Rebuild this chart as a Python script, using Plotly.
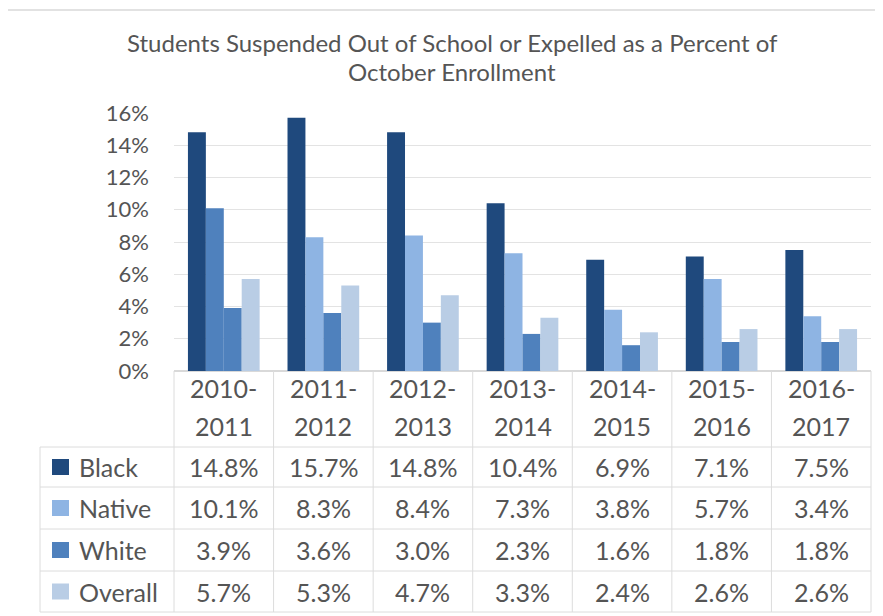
import plotly.graph_objects as go

# ---------------- data ----------------
years = ["2010-2011", "2011-2012", "2012-2013", "2013-2014", "2014-2015", "2015-2016", "2016-2017"]
series_names = ["Black", "Native", "White", "Overall"]
black = [14.8, 15.7, 14.8, 10.4, 6.9, 7.1, 7.5]
native = [10.1, 8.3, 8.4, 7.3, 3.8, 5.7, 3.4]
white = [3.9, 3.6, 3.0, 2.3, 1.6, 1.8, 1.8]
overall = [5.7, 5.3, 4.7, 3.3, 2.4, 2.6, 2.6]
title_lines = ["Students Suspended Out of School or Expelled as a Percent of", "October Enrollment"]

# ---------------- style ----------------
C_BLACK = "#1F497D"
C_NATIVE = "#8EB4E3"
C_WHITE = "#4F81BD"
C_OVERALL = "#B9CDE5"
TXT = "#555555"
GRID = "#E3E3E3"
FONT = "Lato"

# page body has an 8px margin, so the figure is drawn 8px smaller
OFF = 8
W, H = 883 - OFF, 616 - OFF
PLOT_X0, PLOT_X1, PLOT_Y0, PLOT_Y1 = 174, 871, 113, 371  # in page pixels
L, T = PLOT_X0 - OFF, PLOT_Y0 - OFF
R = 883 - PLOT_X1
B = 616 - PLOT_Y1
PW = PLOT_X1 - PLOT_X0
PH = PLOT_Y1 - PLOT_Y0


def px(x):
    return (x - PLOT_X0) / PW


def py(y):
    return (PLOT_Y1 - y) / PH


series_vals = [black, native, white, overall]
series_colors = [C_BLACK, C_NATIVE, C_WHITE, C_OVERALL]
# in the reference the first Native bar is drawn in the medium blue
native_bar_colors = [C_WHITE] + [C_NATIVE] * (len(years) - 1)
bar_colors = [C_BLACK, native_bar_colors, C_WHITE, C_OVERALL]

fig = go.Figure()
for name, vals, col in zip(series_names, series_vals, bar_colors):
    fig.add_trace(go.Bar(x=years, y=vals, name=name, marker=dict(color=col, line=dict(width=0)),
                         showlegend=False))

shapes = []
annotations = []

# outer frame
shapes.append(dict(type="rect", xref="paper", yref="paper", x0=px(7), x1=px(895), y0=py(10), y1=py(640),
                   line=dict(color="#D9D9D9", width=1.5), fillcolor="rgba(0,0,0,0)", layer="below"))

n = len(years)
col_w = 1.0 / n
row_edges = [447, 487, 529, 571, 612]
line_style = dict(color="#DCDCDC", width=1)
left_px = 40
TS = 25

# header vertical lines
for i in range(n + 1):
    shapes.append(dict(type="line", xref="paper", yref="paper", x0=i * col_w, x1=i * col_w,
                       y0=py(371), y1=py(612), line=line_style))
# left border of table body
shapes.append(dict(type="line", xref="paper", yref="paper", x0=px(left_px), x1=px(left_px),
                   y0=py(447), y1=py(612), line=line_style))
# horizontal rows
for ry in row_edges:
    shapes.append(dict(type="line", xref="paper", yref="paper", x0=px(left_px), x1=1.0,
                       y0=py(ry), y1=py(ry), line=line_style))

# header labels
for i, yr in enumerate(years):
    a, b = yr.split("-")
    cx = (i + 0.5) * col_w
    annotations.append(dict(xref="paper", yref="paper", x=cx, y=py(388), text=a + "-", showarrow=False,
                            font=dict(family=FONT, size=TS, color=TXT), xanchor="center", yanchor="middle"))
    annotations.append(dict(xref="paper", yref="paper", x=cx, y=py(426), text=b, showarrow=False,
                            font=dict(family=FONT, size=TS, color=TXT), xanchor="center", yanchor="middle"))

# body rows
for r, (name, vals, col) in enumerate(zip(series_names, series_vals, series_colors)):
    top, bot = row_edges[r], row_edges[r + 1]
    cy = (top + bot) / 2
    shapes.append(dict(type="rect", xref="paper", yref="paper", x0=px(52), x1=px(69),
                       y0=py(cy - 8), y1=py(cy + 8), line=dict(width=0), fillcolor=col))
    annotations.append(dict(xref="paper", yref="paper", x=px(77), y=py(cy), text=name, showarrow=False,
                            font=dict(family=FONT, size=TS, color=TXT), xanchor="left", yanchor="middle"))
    for i, v in enumerate(vals):
        annotations.append(dict(xref="paper", yref="paper", x=(i + 0.5) * col_w, y=py(cy),
                                text=f"{v:.1f}%", showarrow=False,
                                font=dict(family=FONT, size=TS, color=TXT), xanchor="center", yanchor="middle"))

# title
annotations.append(dict(xref="paper", yref="paper", x=px(452), y=py(43), text=title_lines[0], showarrow=False,
                        font=dict(family=FONT, size=24, color=TXT), xanchor="center", yanchor="middle"))
annotations.append(dict(xref="paper", yref="paper", x=px(452), y=py(72), text=title_lines[1], showarrow=False,
                        font=dict(family=FONT, size=24, color=TXT), xanchor="center", yanchor="middle"))

fig.update_layout(
    width=W, height=H,
    margin=dict(l=L, r=R, t=T, b=B, pad=0),
    paper_bgcolor="white", plot_bgcolor="white",
    barmode="group", bargap=0.28, bargroupgap=0,
    shapes=shapes, annotations=annotations,
    font=dict(family=FONT, color=TXT),
)
fig.update_xaxes(showticklabels=False, showgrid=False, zeroline=False, showline=False, ticks="")
fig.update_yaxes(range=[0, 16], dtick=2, ticksuffix="%", showgrid=True, gridcolor=GRID, gridwidth=1,
                 zeroline=True, zerolinecolor="#D9D9D9", showline=False, ticks="",
                 ticklabelstandoff=24, tickfont=dict(family=FONT, size=22, color=TXT))

fig.write_html("out.html")
